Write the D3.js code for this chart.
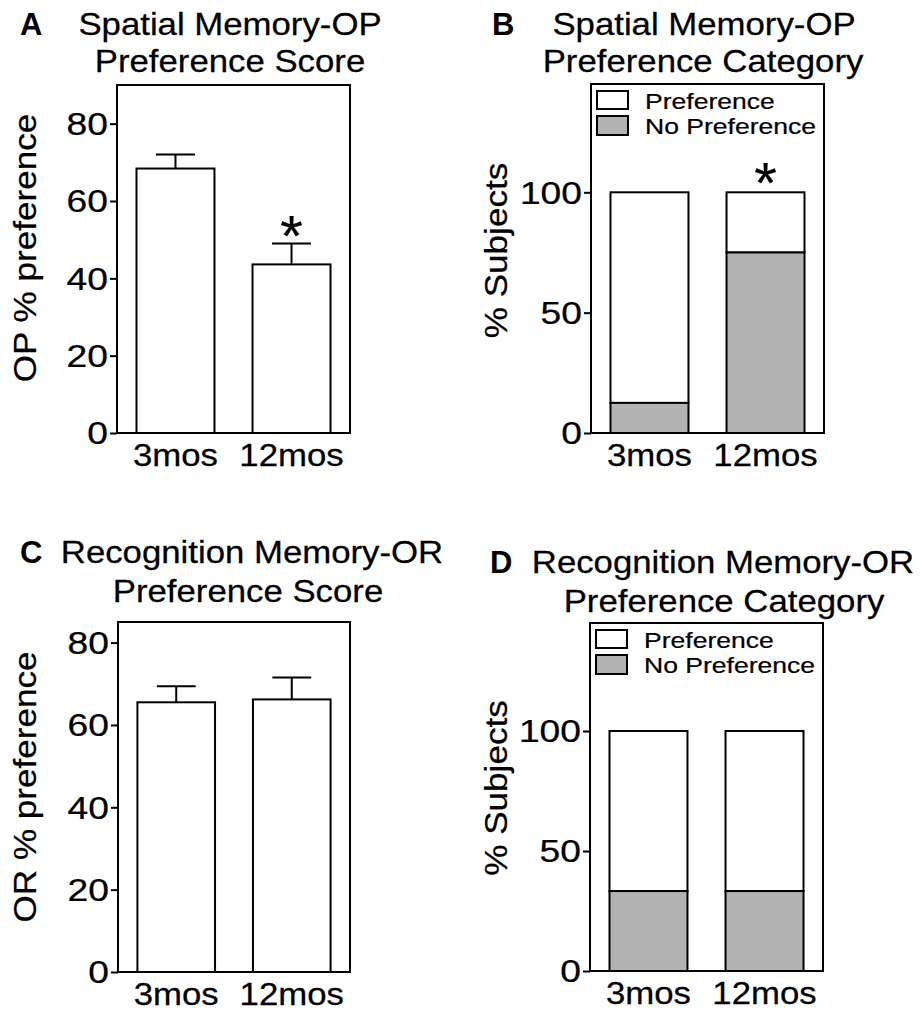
<!DOCTYPE html>
<html>
<head>
<meta charset="utf-8">
<script src="https://cdn.jsdelivr.net/npm/d3@7"></script>
<style>
  html, body { margin: 0; padding: 0; background: #fff; }
  svg { display: block; }
  text { font-family: "Liberation Sans", Arial, sans-serif; fill: #000; }
</style>
</head>
<body>
<script>
// ---- data ----
const groups = ["3mos", "12mos"];
const opScoreMean = [68.4, 43.6];
const opScoreSem = [3.6, 5.4];
const orScoreMean = [65.5, 66.2];
const orScoreSem = [3.9, 5.3];
const opNoPreference = [12.5, 75];
const orNoPreference = [33.3, 33.3];
const categoryTotal = [100, 100];
const legendLabels = ["Preference", "No Preference"];
const scoreTicks = [0, 20, 40, 60, 80];
const categoryTicks = [0, 50, 100];

const W = 920, H = 1011;
const svg = d3.select("body").append("svg").attr("width", W).attr("height", H);

const GRAY = "#b3b3b3";
const SW = 2;

function txt(g, str, x, y, o = {}) {
  const fs = o.fs || 30.5, sx = o.sx || 1.14, rot = o.rot || 0;
  return g.append("text")
    .attr("transform", `translate(${x},${y}) rotate(${rot}) scale(${sx},1)`)
    .attr("text-anchor", o.anchor || "start")
    .attr("font-size", fs)
    .attr("font-weight", o.bold ? "bold" : "normal")
    .attr("stroke", "#000").attr("stroke-width", o.bold ? 0 : 0.25)
    .text(str);
}

function panel(cfg) {
  const g = svg.append("g");
  const x = d3.scaleBand().domain(groups).range([cfg.left, cfg.right])
    .paddingInner(0.328).paddingOuter(0.168);
  const y = d3.scaleLinear().domain(cfg.domain).range([cfg.bottom, cfg.top]);
  const STAR = 58;

  if (cfg.type === "score") {
    const rows = groups.map((k, i) => ({ k, m: cfg.mean[i], e: cfg.sem[i] }));
    const eb = g.append("g").attr("stroke", "#000").attr("stroke-width", SW).attr("fill", "none");
    rows.forEach(d => {
      const cx = x(d.k) + x.bandwidth() / 2;
      const cw = x.bandwidth() / 2;
      eb.append("line").attr("x1", cx).attr("x2", cx).attr("y1", y(d.m)).attr("y2", y(d.m + d.e));
      eb.append("line").attr("x1", cx - cw / 2).attr("x2", cx + cw / 2).attr("y1", y(d.m + d.e)).attr("y2", y(d.m + d.e));
    });
    g.selectAll("rect.bar").data(rows).join("rect")
      .attr("x", d => x(d.k)).attr("width", x.bandwidth())
      .attr("y", d => y(d.m)).attr("height", d => y(0) - y(d.m))
      .attr("fill", "#fff").attr("stroke", "#000").attr("stroke-width", SW);
    if (cfg.star != null) {
      const d = rows[cfg.star];
      const cx = x(d.k) + x.bandwidth() / 2;
      const cy = y(d.m + d.e) - 21;
      txt(g, "*", cx, cy + 0.575 * STAR, { fs: STAR, sx: 1.0, anchor: "middle" });
    }
  } else {
    const rows = groups.map((k, i) => ({ k, np: cfg.noPref[i], tot: categoryTotal[i] }));
    g.selectAll("rect.pref").data(rows).join("rect")
      .attr("x", d => x(d.k)).attr("width", x.bandwidth())
      .attr("y", d => y(d.tot)).attr("height", d => y(d.np) - y(d.tot))
      .attr("fill", "#fff").attr("stroke", "#000").attr("stroke-width", SW);
    g.selectAll("rect.np").data(rows).join("rect")
      .attr("x", d => x(d.k)).attr("width", x.bandwidth())
      .attr("y", d => y(d.np)).attr("height", d => y(0) - y(d.np))
      .attr("fill", GRAY).attr("stroke", "#000").attr("stroke-width", SW);
    if (cfg.star != null) {
      const d = rows[cfg.star];
      const cx = x(d.k) + x.bandwidth() / 2;
      const cy = y(d.tot) - 23;
      txt(g, "*", cx, cy + 0.575 * STAR, { fs: STAR, sx: 1.0, anchor: "middle" });
    }
    const lx = cfg.left + 6;
    const items = [{ l: legendLabels[0], f: "#fff", by: 7, bh: 18, ty: 25 },
                   { l: legendLabels[1], f: GRAY, by: 32, bh: 19, ty: 50 }];
    items.forEach(it => {
      g.append("rect").attr("x", lx).attr("y", cfg.top + it.by).attr("width", 31).attr("height", it.bh)
        .attr("fill", it.f).attr("stroke", "#000").attr("stroke-width", SW);
      txt(g, it.l, lx + 48, cfg.top + it.ty, { fs: 22.5, sx: 1.18 });
    });
  }

  g.append("rect").attr("x", cfg.left).attr("y", cfg.top)
    .attr("width", cfg.right - cfg.left).attr("height", cfg.bottom - cfg.top)
    .attr("fill", "none").attr("stroke", "#000").attr("stroke-width", SW);

  const ax = g.append("g").attr("transform", `translate(${cfg.left},0)`)
    .call(d3.axisLeft(y).tickValues(cfg.ticks).tickSize(7).tickFormat(d3.format("d")));
  ax.select(".domain").remove();
  ax.selectAll(".tick line").attr("stroke", "#000").attr("stroke-width", SW);
  ax.selectAll(".tick text")
    .attr("x", 0).attr("dy", "0.36em")
    .attr("font-size", 30.5)
    .attr("font-family", '"Liberation Sans", Arial, sans-serif')
    .attr("fill", "#000").attr("stroke", "#000").attr("stroke-width", 0.25)
    .attr("transform", "translate(-9,0) scale(1.22,1)");

  groups.forEach(k => {
    txt(g, k, x(k) + x.bandwidth() / 2, cfg.bottom + 33, { anchor: "middle" });
  });

  txt(g, cfg.ylabel, cfg.ylabelX, (cfg.top + cfg.bottom) / 2 + cfg.ylabelDy, { rot: -90, anchor: "middle", sx: 1.15 });

  txt(g, cfg.letter, cfg.letterX, cfg.t1y, { bold: true, sx: 1.0, fs: 31 });
  txt(g, cfg.title1, cfg.t1x, cfg.t1y, { anchor: "middle" });
  txt(g, cfg.title2, cfg.t2x, cfg.t2y, { anchor: "middle" });
}

panel({ type: "score", left: 117, right: 350, top: 85, bottom: 433, domain: [0, 90], ticks: scoreTicks,
  mean: opScoreMean, sem: opScoreSem, star: 1,
  ylabel: "OP % preference", ylabelX: 36, ylabelDy: -11,
  letter: "A", letterX: 20, title1: "Spatial Memory-OP", t1x: 230, t1y: 35,
  title2: "Preference Score", t2x: 230, t2y: 72 });

panel({ type: "cat", left: 591, right: 824, top: 84, bottom: 433, domain: [0, 145], ticks: categoryTicks,
  noPref: opNoPreference, star: 1,
  ylabel: "% Subjects", ylabelX: 507, ylabelDy: -8,
  letter: "B", letterX: 492, title1: "Spatial Memory-OP", t1x: 704, t1y: 35,
  title2: "Preference Category", t2x: 703, t2y: 72 });

panel({ type: "score", left: 118, right: 350, top: 622, bottom: 972, domain: [0, 85], ticks: scoreTicks,
  mean: orScoreMean, sem: orScoreSem, star: null,
  ylabel: "OR % preference", ylabelX: 36, ylabelDy: -10,
  letter: "C", letterX: 20, title1: "Recognition Memory-OR", t1x: 252, t1y: 563,
  title2: "Preference Score", t2x: 248, t2y: 602 });

panel({ type: "cat", left: 590, right: 823, top: 623, bottom: 971, domain: [0, 145], ticks: categoryTicks,
  noPref: orNoPreference, star: null,
  ylabel: "% Subjects", ylabelX: 507, ylabelDy: -9,
  letter: "D", letterX: 490, title1: "Recognition Memory-OR", t1x: 723, t1y: 573,
  title2: "Preference Category", t2x: 724, t2y: 612 });
</script>
</body>
</html>
